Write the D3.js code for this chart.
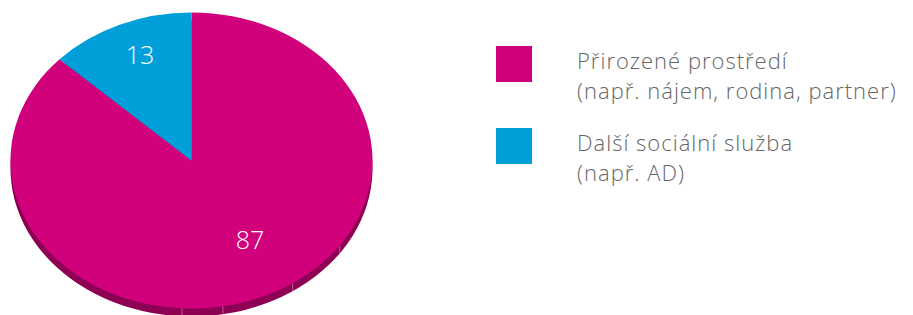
<!DOCTYPE html>
<html>
<head>
<meta charset="utf-8">
<script src="https://cdn.jsdelivr.net/npm/d3@7"></script>
<style>
  body { margin: 0; background: #fff; }
  svg { display: block; font-family: "Open Sans", "Noto Sans", sans-serif; }
</style>
</head>
<body>
<svg id="pieSvg" width="913" height="315"></svg>
<script>
var categories = ["Přirozené prostředí", "Další sociální služba"];
var subLabels = ["(např. nájem, rodina, partner)", "(např. AD)"];
var values = [87, 13];
var colors = ["#D1007B", "#009FDA"];
var sideColors = ["#8E0054", "#006F99"];

var svg = d3.select("#pieSvg");
var cx = 191.5, cy = 160.5, rx = 181, ry = 148, depth = 8;

// magenta clockwise from 12 o'clock, blue ends back at 12 o'clock
var pie = d3.pie().sort(null).startAngle(0).endAngle(2 * Math.PI);
var arcs = pie(values);
var arc = d3.arc().innerRadius(0).outerRadius(rx);

// side (depth) drawn as shifted copy underneath
var sideG = svg.append("g")
    .attr("transform", "translate(" + cx + "," + (cy + depth) + ") scale(1," + (ry / rx) + ")");
sideG.selectAll("path").data(arcs).enter()
    .append("path")
    .attr("d", arc)
    .style("fill", function (d, i) { return sideColors[i]; });

// faint facet lines on the side
var facetAngles = [125, 146, 170, 183];
svg.append("g").selectAll("line").data(facetAngles).enter()
    .append("line")
    .attr("x1", function (d) { return cx + rx * Math.sin(d * Math.PI / 180); })
    .attr("x2", function (d) { return cx + rx * Math.sin(d * Math.PI / 180); })
    .attr("y1", function (d) { return cy - ry * Math.cos(d * Math.PI / 180); })
    .attr("y2", function (d) { return cy - ry * Math.cos(d * Math.PI / 180) + depth; })
    .style("stroke", "#d86aa6")
    .style("stroke-width", 0.8);

var topG = svg.append("g")
    .attr("transform", "translate(" + cx + "," + cy + ") scale(1," + (ry / rx) + ")");
topG.selectAll("path").data(arcs).enter()
    .append("path")
    .attr("d", arc)
    .style("fill", function (d, i) { return colors[i]; });

// slice labels (baseline positions)
var labelPos = [[250, 248.5], [140, 63.5]];
svg.append("g").selectAll("text").data(values).enter()
    .append("text")
    .attr("x", function (d, i) { return labelPos[i][0]; })
    .attr("y", function (d, i) { return labelPos[i][1]; })
    .attr("text-anchor", "middle")
    .attr("font-size", "25px")
    .attr("font-weight", 300)
    .style("fill", "#fff")
    .text(function (d) { return d; });

// legend: one text per entry, two lines as tspans
var legend = svg.append("g").selectAll("g").data(categories).enter()
    .append("g")
    .attr("transform", function (d, i) { return "translate(496," + (46 + i * 82) + ")"; });
legend.append("rect")
    .attr("width", 36)
    .attr("height", 36)
    .style("fill", function (d, i) { return colors[i]; });
var legendText = legend.append("text")
    .attr("font-size", "22px")
    .attr("font-weight", 300)
    .attr("letter-spacing", "1px")
    .style("fill", "#666");
legendText.append("tspan")
    .attr("x", 81)
    .attr("y", 22.5)
    .text(function (d) { return d; });
legendText.append("tspan")
    .attr("x", 81)
    .attr("y", 52.5)
    .text(function (d, i) { return subLabels[i]; });
</script>
</body>
</html>
